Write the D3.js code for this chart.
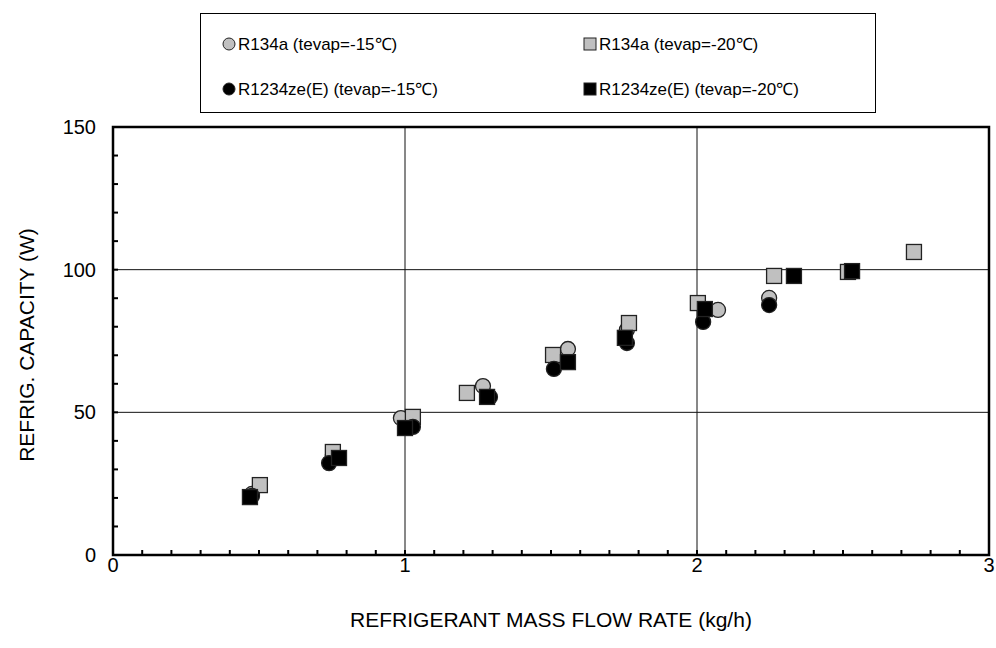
<!DOCTYPE html>
<html>
<head>
<meta charset="utf-8">
<script src="https://cdn.jsdelivr.net/npm/d3@7/dist/d3.min.js"></script>
<style>
  body { margin: 0; background: #fff; }
  svg { display: block; font-family: "Liberation Sans", Arial, sans-serif; }
</style>
</head>
<body>
<div id="chart"></div>
<script>
// values (mass flow kg/h, capacity W)
const r134a15X = [0.476, 0.753, 0.986, 1.267, 1.558, 1.760, 2.072, 2.247]
const r134a15Y = [21.4, 35.0, 48.0, 59.2, 72.2, 78.9, 85.9, 90.1]

const r134a20X = [0.503, 0.753, 1.027, 1.212, 1.507, 1.767, 2.003, 2.264, 2.517, 2.743]
const r134a20Y = [24.5, 36.1, 48.4, 56.8, 70.1, 81.3, 88.3, 97.8, 99.2, 106.2]

const r1234ze15X = [0.476, 0.740, 1.027, 1.291, 1.510, 1.760, 2.021, 2.247]
const r1234ze15Y = [20.7, 32.2, 44.9, 55.4, 65.2, 74.3, 81.7, 87.6]

const r1234ze20X = [0.469, 0.774, 1.000, 1.281, 1.558, 1.753, 2.027, 2.332, 2.531]
const r1234ze20Y = [20.3, 34.0, 44.5, 55.4, 67.6, 76.1, 86.2, 97.8, 99.5]

const xTicks = [0, 1, 2, 3]
const yTicks = [0, 50, 100, 150]

const SERIES = [
  { name: "R134a (tevap=-15\u2103)", xs: r134a15X, ys: r134a15Y, shape: "circle", fill: "#c0c0c0" },
  { name: "R134a (tevap=-20\u2103)", xs: r134a20X, ys: r134a20Y, shape: "square", fill: "#c0c0c0" },
  { name: "R1234ze(E) (tevap=-15\u2103)", xs: r1234ze15X, ys: r1234ze15Y, shape: "circle", fill: "#000" },
  { name: "R1234ze(E) (tevap=-20\u2103)", xs: r1234ze20X, ys: r1234ze20Y, shape: "square", fill: "#000" },
]

const W = 996, H = 648
const M = { left: 113, right: 989, top: 127, bottom: 555 }

const svg = d3.select("#chart").append("svg")
  .attr("width", W)
  .attr("height", H)

const x = d3.scaleLinear().domain([0, 3]).range([M.left, M.right])
const y = d3.scaleLinear().domain([0, 150]).range([M.bottom, M.top])

// grid lines
const grid = svg.append("g")
grid.selectAll("line.gx")
  .data(xTicks.slice(1, -1))
  .join("line")
  .attr("x1", d => x(d)).attr("x2", d => x(d))
  .attr("y1", M.top).attr("y2", M.bottom)
  .attr("stroke", "#111").attr("stroke-width", 1)
grid.selectAll("line.gy")
  .data(yTicks.slice(1, -1))
  .join("line")
  .attr("x1", M.left).attr("x2", M.right)
  .attr("y1", d => y(d)).attr("y2", d => y(d))
  .attr("stroke", "#111").attr("stroke-width", 1)

// minor ticks (inside)
const ticks = svg.append("g").attr("stroke", "#000").attr("stroke-width", 2)
ticks.selectAll("line.tx")
  .data(d3.range(1, 30).map(i => i / 10))
  .join("line")
  .attr("x1", d => x(d)).attr("x2", d => x(d))
  .attr("y1", M.bottom).attr("y2", M.bottom - 5)
ticks.selectAll("line.ty")
  .data(d3.range(1, 15).map(i => i * 10))
  .join("line")
  .attr("x1", M.left).attr("x2", M.left + 5)
  .attr("y1", d => y(d)).attr("y2", d => y(d))

// frame
svg.append("rect")
  .attr("x", M.left).attr("y", M.top)
  .attr("width", M.right - M.left).attr("height", M.bottom - M.top)
  .attr("fill", "none").attr("stroke", "#000").attr("stroke-width", 2.5)

// tick labels
svg.append("g").selectAll("text")
  .data(xTicks)
  .join("text")
  .attr("x", d => x(d)).attr("y", 572)
  .attr("text-anchor", "middle")
  .attr("font-size", "20px")
  .text(d => d)
svg.append("g").selectAll("text")
  .data(yTicks)
  .join("text")
  .attr("x", 96).attr("y", d => y(d) + 7)
  .attr("text-anchor", "end")
  .attr("font-size", "20px")
  .text(d => d)

// axis titles
svg.append("text")
  .attr("x", 551).attr("y", 627)
  .attr("text-anchor", "middle")
  .attr("font-size", "21px")
  .text("REFRIGERANT MASS FLOW RATE (kg/h)")
svg.append("text")
  .attr("transform", `translate(34, ${(M.top + M.bottom) / 2 + 4}) rotate(-90)`)
  .attr("text-anchor", "middle")
  .attr("font-size", "21px")
  .text("REFRIG. CAPACITY (W)")

function drawMarker(g, shape, fill, cx, cy) {
  if (shape === "circle") {
    g.append("circle").attr("cx", cx).attr("cy", cy).attr("r", 7.5)
      .attr("fill", fill).attr("stroke", "#222").attr("stroke-width", 1.3)
  } else {
    g.append("rect").attr("x", cx - 7.5).attr("y", cy - 7.5)
      .attr("width", 15).attr("height", 15)
      .attr("fill", fill).attr("stroke", "#222").attr("stroke-width", 1.3)
  }
}

// points
const pts = svg.append("g")
SERIES.forEach(s => {
  const g = pts.append("g")
  s.xs.forEach((v, i) => drawMarker(g, s.shape, s.fill, x(v), y(s.ys[i])))
})

// legend
const leg = svg.append("g")
leg.append("rect")
  .attr("x", 200.5).attr("y", 13.5).attr("width", 675).attr("height", 99)
  .attr("fill", "#fff").attr("stroke", "#000").attr("stroke-width", 1)
const legPos = [[229, 44], [590, 44], [229, 89], [590, 89]]
SERIES.forEach((s, i) => {
  const [lx, ly] = legPos[i]
  const g = leg.append("g")
  if (s.shape === "circle") {
    g.append("circle").attr("cx", lx).attr("cy", ly).attr("r", 6)
      .attr("fill", s.fill).attr("stroke", "#222").attr("stroke-width", 1)
  } else {
    g.append("rect").attr("x", lx - 6).attr("y", ly - 6).attr("width", 12).attr("height", 12)
      .attr("fill", s.fill).attr("stroke", "#222").attr("stroke-width", 1)
  }
  g.append("text")
    .attr("x", lx + 9).attr("y", ly + 6)
    .attr("font-size", "17px")
    .text(s.name)
})
</script>
</body>
</html>
